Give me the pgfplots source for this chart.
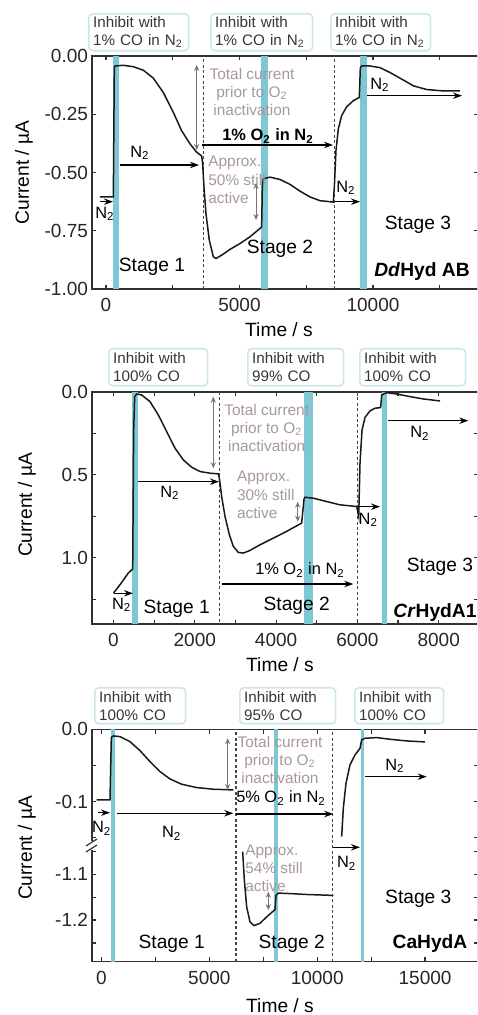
\documentclass[border=0pt]{standalone}
\usepackage{fontspec}
\setmainfont{Liberation Sans}
\usepackage{pgfplots}
\pgfplotsset{compat=1.18}
\usetikzlibrary{arrows.meta}
\definecolor{band}{RGB}{125,200,212}
\definecolor{boxborder}{RGB}{205,230,236}
\definecolor{boxtext}{RGB}{55,55,55}
\definecolor{graytext}{RGB}{168,152,152}
\definecolor{grayarrow}{RGB}{125,115,115}
\definecolor{axiscol}{RGB}{50,50,50}
\definecolor{curvecol}{RGB}{25,25,25}
\definecolor{dashcol}{RGB}{70,70,70}
\pgfplotsset{
  panel/.style={
    scale only axis, clip=false, anchor=south west,
    scaled x ticks=false, scaled y ticks=false,
    axis line style={axiscol, line width=0.75pt},
    tick style={axiscol, line width=0.6pt},
    tick align=inside,
    major tick length=2.2pt, minor tick length=2.2pt,
    ticklabel style={font=\fontsize{9.5}{10}\selectfont, text=black!85},
    xticklabel style={yshift=-1.2pt},
    yticklabel style={xshift=1.5pt},
  },
  cur/.style={curvecol, line width=0.75pt, mark=none},
}
\tikzset{
  bandfill/.style={fill=band, draw=none},
  dline/.style={dashcol, line width=0.6pt, dash pattern=on 1.5pt off 1.2pt},
  arr/.style={-{Stealth[length=4.5pt,width=3.2pt]}, line width=0.6pt, black},
  garr/.style={{Stealth[length=3pt,width=2.6pt]}-{Stealth[length=3pt,width=2.6pt]}, line width=0.5pt, grayarrow},
  nlab/.style={font=\fontsize{8.2}{9.5}\selectfont, black, inner sep=0pt},
  gtext/.style={font=\fontsize{7.7}{9.2}\selectfont, text=graytext, inner sep=0pt},
  stage/.style={font=\fontsize{9.6}{11}\selectfont, black, inner sep=0pt},
  ibox/.style={draw=boxborder, fill=white, rounded corners=2pt, line width=0.8pt,
     anchor=north west, inner xsep=2.2pt, inner ysep=0pt, align=left,
     font=\fontsize{7.6}{9}\selectfont, text=boxtext, minimum height=18.5pt},
  lab/.style={font=\fontsize{9.6}{11}\selectfont, black, inner sep=0pt},
}
\begin{document}
\begin{tikzpicture}
\useasboundingbox (0,0) rectangle (238.5pt,507.5pt);
\clip (0,0) rectangle (238.5pt,507.5pt);

% ---------------- Panel 1 ----------------
\begin{axis}[panel, at={(46pt,363pt)}, width=193pt, height=116.5pt,
  xmin=-524, xmax=13933, ymin=-1, ymax=0,
  xtick={0,5000,10000}, xticklabels={0,5000,10000}, minor xtick={2500,7500,12500},
  ytick={-1,-0.75,-0.5,-0.25,0}, yticklabels={-1.00,-0.75,-0.50,-0.25,0.00}]
\fill[bandfill] (275,-1) rectangle (500,0);
\fill[bandfill] (5793,-1) rectangle (6080,0);
\fill[bandfill] (9513,-1) rectangle (9763,0);
\draw[dline] (3645,-1) -- (3645,0);
\draw[dline] (8552,-1) -- (8552,0);
\addplot[cur] coordinates {
(-225,-0.605) (275,-0.605) (312,-0.050) (337,-0.043) (649,-0.040) (1024,-0.046)
(1398,-0.061) (1773,-0.095) (2147,-0.157) (2522,-0.242) (2834,-0.321) (3146,-0.377)
(3396,-0.413) (3583,-0.429) (3620,-0.463) (3670,-0.563) (3745,-0.677) (3870,-0.791)
(4020,-0.862) (4120,-0.869) (4332,-0.855) (4644,-0.830) (5019,-0.805) (5393,-0.776)
(5830,-0.734) (5855,-0.563) (5893,-0.527) (6142,-0.520) (6517,-0.530) (6891,-0.551)
(7266,-0.580) (7640,-0.605) (8015,-0.621) (8514,-0.627) (8552,-0.563) (8614,-0.406)
(8702,-0.313) (8826,-0.256) (9014,-0.218) (9263,-0.192) (9488,-0.178) (9526,-0.050)
(9576,-0.043) (9888,-0.043) (10262,-0.050) (10637,-0.071) (11011,-0.095) (11511,-0.128)
(12010,-0.144) (12634,-0.150) (13258,-0.150)};
\end{axis}

% ---------------- Panel 2 ----------------
\begin{axis}[panel, at={(46pt,195.5pt)}, width=193pt, height=116pt,
  xmin=-529, xmax=8967, ymin=0, ymax=1.4, y dir=reverse,
  xtick={0,2000,4000,6000,8000}, xticklabels={0,2000,4000,6000,8000},
  minor xtick={1000,3000,5000,7000},
  ytick={0,0.5,1.0}, yticklabels={0.0,0.5,1.0}, minor ytick={0.25,0.75,1.25}]
\fill[bandfill] (463,0) rectangle (611,1.4);
\fill[bandfill] (4686,0) rectangle (4916,1.4);
\fill[bandfill] (6597,0) rectangle (6736,1.4);
\draw[dline] (2604,0) -- (2604,1.4);
\draw[dline] (6000,0) -- (6000,1.4);
\addplot[cur] coordinates {
(0,1.213) (160,1.163) (365,1.092) (472,1.068) (496,0.229) (521,0.028) (570,0.012)
(693,0.018) (898,0.058) (1103,0.139) (1308,0.239) (1513,0.339) (1718,0.410)
(1923,0.454) (2128,0.480) (2374,0.490) (2579,0.494) (2604,0.52) (2661,0.631)
(2743,0.751) (2850,0.861) (2948,0.932) (3071,0.968) (3194,0.972) (3358,0.956)
(3604,0.922) (3932,0.882) (4260,0.841) (4629,0.791) (4686,0.647) (4711,0.635)
(4916,0.641) (5244,0.661) (5572,0.681) (5982,0.691) (6032,0.751) (6064,0.430)
(6114,0.229) (6188,0.153) (6310,0.114) (6433,0.098) (6572,0.094) (6597,0.018)
(6720,0.004) (6966,0.012) (7294,0.028) (7622,0.042) (8032,0.054)};
\end{axis}

% ---------------- Panel 3 upper ----------------
\begin{axis}[panel, at={(46pt,85.85pt)}, width=193pt, height=57pt,
  xmin=-440, xmax=17455, ymin=-0.1577, ymax=0,
  axis x line*=top, axis y line*=box,
  xtick={0,5000,10000,15000}, xticklabels={}, minor xtick={2500,7500,12500,17500},
  ytick={-0.1,0}, yticklabels={-0.1,0.0}, minor ytick={-0.05,-0.15}]
\fill[bandfill] (439,-0.1577) rectangle (625,0);
\fill[bandfill] (7997,-0.1577) rectangle (8198,0);
\fill[bandfill] (12021,-0.1577) rectangle (12191,0);
\draw[dline] (6235,-0.1577) -- (6235,0);
\draw[dline] (10717,-0.1577) -- (10717,0);
\addplot[cur] coordinates {
(-224,-0.0977) (394,-0.0977) (456,-0.0111) (549,-0.0092) (858,-0.0101) (1321,-0.0171)
(1785,-0.0295) (2248,-0.0447) (2712,-0.0585) (3176,-0.0687) (3717,-0.0760)
(4412,-0.0806) (5185,-0.0829) (6112,-0.0839)};
\addplot[cur] coordinates {
(11134,-0.1484) (11211,-0.1092) (11335,-0.0747) (11520,-0.0493) (11752,-0.0355)
(11984,-0.0263) (12061,-0.0147) (12216,-0.0124) (12757,-0.0115) (13375,-0.0138)
(14148,-0.0161) (14998,-0.0175)};
\end{axis}

% ---------------- Panel 3 lower ----------------
\begin{axis}[panel, at={(46pt,26.65pt)}, width=193pt, height=59.2pt,
  xmin=-440, xmax=17455, ymin=-1.291, ymax=-1.032,
  axis x line*=bottom, axis y line*=box,
  xtick={0,5000,10000,15000}, xticklabels={0,5000,10000,15000},
  minor xtick={2500,7500,12500,17500},
  ytick={-1.2,-1.1}, yticklabels={-1.2,-1.1}, minor ytick={-1.25,-1.15,-1.05}]
\fill[bandfill] (439,-1.291) rectangle (625,-1.032);
\fill[bandfill] (7997,-1.291) rectangle (8198,-1.032);
\fill[bandfill] (12021,-1.291) rectangle (12191,-1.032);
\draw[dline] (6235,-1.291) -- (6235,-1.032);
\draw[dline] (10717,-1.291) -- (10717,-1.032);
\addplot[cur] coordinates {
(6545,-1.050) (6622,-1.112) (6730,-1.171) (6885,-1.204) (7070,-1.212) (7348,-1.207)
(7657,-1.193) (8044,-1.177) (8090,-1.146) (8198,-1.141) (8739,-1.142) (9512,-1.144)
(10748,-1.146)};
\end{axis}

% ---------------- Annotations (image pixel coordinates) ----------------
\begin{scope}[x=0.5pt,y=-0.5pt,yshift=507.5pt]
% axis labels
\node[lab, rotate=90] at (24,172.5) {Current / µA};
\node[lab, rotate=90] at (27,505) {Current / µA};
\node[lab, rotate=90] at (27,848) {Current / µA};
\node[lab] at (279,330) {Time / s};
\node[lab] at (280,665) {Time / s};
\node[lab] at (280,1006) {Time / s};
% break marks panel 3
\fill[white] (89,841) rectangle (96,850);
\draw[axiscol, line width=0.6pt] (86,846) -- (97,839);
\draw[axiscol, line width=0.6pt] (86,852) -- (97,845);

% --- panel 1 boxes
\node[ibox, text width=45.5pt] at (88,13) {Inhibit with\\1\% CO in N\textsubscript{2}};
\node[ibox, text width=46.5pt] at (210,13) {Inhibit with\\1\% CO in N\textsubscript{2}};
\node[ibox, text width=45.5pt] at (330,13) {Inhibit with\\1\% CO in N\textsubscript{2}};
% --- panel 1 annotations
\draw[arr] (100,201.7) -- (113,201.7);
\node[nlab] at (105,214) {N\textsubscript{2}};
\draw[arr] (120,165) -- (199,165);
\node[nlab] at (140,153) {N\textsubscript{2}};
\draw[arr] (202,145) -- (333,145);
\node[nlab, font=\fontsize{8.2}{9.5}\bfseries] at (268,136) {1\% O\textsubscript{2} in N\textsubscript{2}};
\draw[garr] (196.7,65) -- (196.7,150);
\node[gtext, align=center] at (252,92) {Total current\\prior to O\textsubscript{2}\\inactivation};
\node[gtext, align=left, anchor=west] at (208,180) {Approx.\\50\% still\\active};
\draw[garr] (256,183) -- (256,220);
\draw[arr] (335,201.7) -- (360,201.7);
\node[nlab] at (346,188) {N\textsubscript{2}};
\draw[arr] (367,95.7) -- (462,95.7);
\node[nlab] at (380,85) {N\textsubscript{2}};
\node[stage] at (152,267) {Stage 1};
\node[stage] at (280,249) {Stage 2};
\node[stage] at (418,225) {Stage 3};
\node[stage, font=\fontsize{9.6}{11}\bfseries] at (422,272) {\textit{Dd}Hyd AB};

% --- panel 2 boxes
\node[ibox, text width=45pt] at (108,348) {Inhibit with\\100\% CO};
\node[ibox, text width=43.5pt] at (247,348) {Inhibit with\\99\% CO};
\node[ibox, text width=48.5pt] at (359,348) {Inhibit with\\100\% CO};
% --- panel 2 annotations
\draw[arr] (113.5,593.3) -- (133,593.3);
\node[nlab] at (121.7,605) {N\textsubscript{2}};
\draw[arr] (138,481.7) -- (219,481.7);
\node[nlab] at (170,493) {N\textsubscript{2}};
\draw[garr] (213.3,396.7) -- (213.3,468.3);
\node[gtext, align=center] at (266.7,428) {Total current\\prior to O\textsubscript{2}\\inactivation};
\node[gtext, align=left, anchor=west] at (236.7,495) {Approx.\\30\% still\\active};
\draw[garr] (297.7,501.7) -- (297.7,521.7);
\draw[arr] (358.3,506.7) -- (380,506.7);
\node[nlab] at (368.3,520) {N\textsubscript{2}};
\draw[arr] (221.7,584) -- (353.3,584);
\node[nlab] at (300,570) {1\% O\textsubscript{2} in N\textsubscript{2}};
\draw[arr] (388.3,420.7) -- (468.3,420.7);
\node[nlab] at (420,433.3) {N\textsubscript{2}};
\node[stage] at (176.7,608.3) {Stage 1};
\node[stage] at (296.7,606) {Stage 2};
\node[stage] at (440,566.7) {Stage 3};
\node[stage, font=\fontsize{9.6}{11}\bfseries] at (435,612.7) {\textit{Cr}HydA1};

% --- panel 3 boxes
\node[ibox, text width=41pt, minimum height=18pt] at (94,687) {Inhibit with\\100\% CO};
\node[ibox, text width=43.5pt, minimum height=18pt] at (239,687) {Inhibit with\\95\% CO};
\node[ibox, text width=40pt, minimum height=18pt] at (354,687) {Inhibit with\\100\% CO};
% --- panel 3 annotations
\draw[arr] (98.3,812.7) -- (110,812.7);
\node[nlab] at (101.7,828.3) {N\textsubscript{2}};
\draw[arr] (116.7,813.3) -- (233.3,813.3);
\node[nlab] at (171.7,833.3) {N\textsubscript{2}};
\draw[arr] (236,814) -- (333.3,814);
\node[nlab] at (281,798.3) {5\% O\textsubscript{2} in N\textsubscript{2}};
\draw[garr] (227.7,738.3) -- (227.7,790);
\node[gtext, align=center] at (280,760) {Total current\\prior to O\textsubscript{2}\\inactivation};
\node[gtext, align=left, anchor=west] at (245,868.3) {Approx.\\54\% still\\active};
\draw[garr] (268.3,891.7) -- (268.3,910);
\draw[arr] (333.3,847.3) -- (360,847.3);
\node[nlab] at (346.7,863.3) {N\textsubscript{2}};
\draw[arr] (365,776.7) -- (426.7,776.7);
\node[nlab] at (395,766) {N\textsubscript{2}};
\node[stage] at (171.7,944) {Stage 1};
\node[stage] at (291.7,944) {Stage 2};
\node[stage] at (418.3,898.3) {Stage 3};
\node[stage, font=\fontsize{9.6}{11}\bfseries] at (430,944) {CaHydA};
\end{scope}
\end{tikzpicture}
\end{document}
